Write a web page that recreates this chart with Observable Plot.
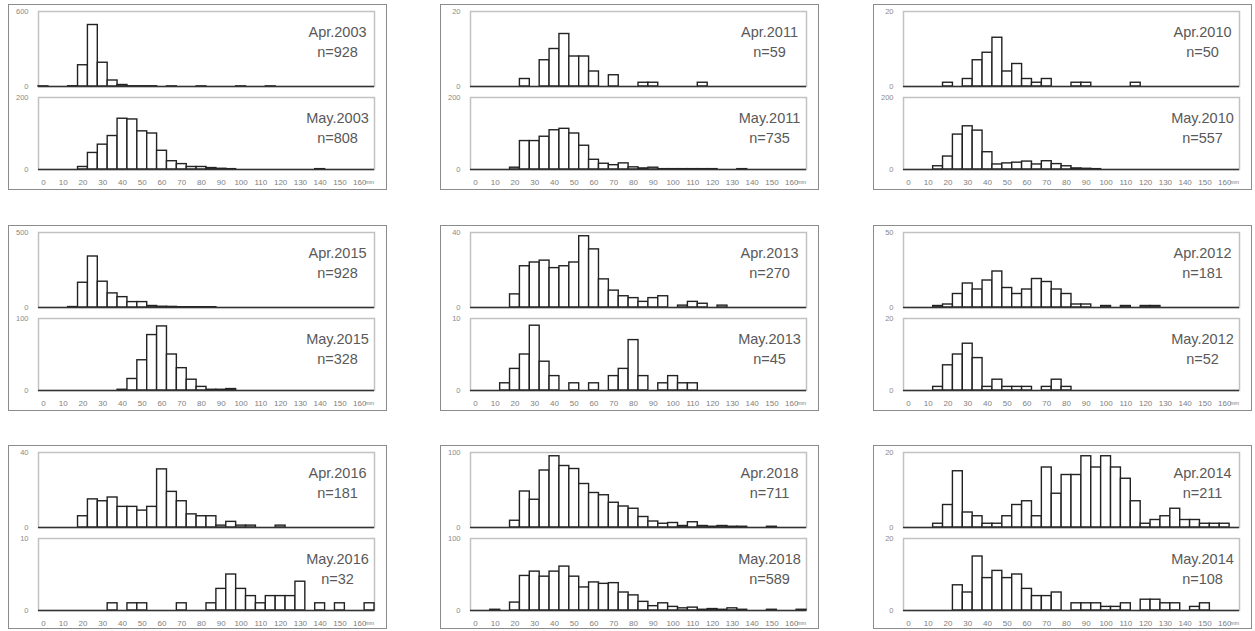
<!DOCTYPE html>
<html><head><meta charset="utf-8">
<script src="https://cdn.jsdelivr.net/npm/d3@7"></script>
<script src="https://cdn.jsdelivr.net/npm/@observablehq/plot@0.6"></script>
<style>
body{margin:0;background:#fff;}
#root{position:relative;width:1255px;height:631px;overflow:hidden;background:#fff;}
.box{position:absolute;border:1.5px solid #8c8c8c;box-sizing:border-box;}
.plot{position:absolute;}
</style></head><body><div id="root"></div>
<script>
// size classes (mm), 5 mm bins
const bins = [0,5,10,15,20,25,30,35,40,45,50,55,60,65,70,75,80,85,90,95,100,105,110,115,120,125,130,135,140,145,150,155,160,165];
const tickLabels = [0,10,20,30,40,50,60,70,80,90,100,110,120,130,140,150,160];
const unitLabel = "mm";

const apr2003 = [1,0,0,2,170,492,190,48,12,2,2,2,0,1,0,0,1,0,0,0,1,0,0,1,0,0,0,0,0,0,0,0,0,0];
const may2003 = [0,0,0,0,7,46,69,93,141,139,106,100,52,23,15,7,7,4,2,1,0,0,0,0,0,0,0,0,1,0,0,0,0,0];
const apr2011 = [0,0,0,0,0,2,0,7,10,14,8,8,4,0,3,0,0,1,1,0,0,0,0,1,0,0,0,0,0,0,0,0,0,0];
const may2011 = [0,0,0,0,5,79,79,91,109,113,100,66,27,16,12,17,6,3,5,1,1,1,1,1,1,0,0,1,0,0,0,0,0,0];
const apr2010 = [0,0,0,0,1,0,2,7,9,13,4,6,2,1,2,0,0,1,1,0,0,0,0,1,0,0,0,0,0,0,0,0,0,0];
const may2010 = [0,0,0,9,36,97,120,108,48,14,17,19,22,14,23,15,9,3,2,1,0,0,0,0,0,0,0,0,0,0,0,0,0,0];
const apr2015 = [0,0,0,3,165,340,172,94,69,36,36,10,5,4,2,2,2,2,0,0,0,0,0,0,0,0,0,0,0,0,0,0,0,0];
const may2015 = [0,0,0,0,0,0,0,0,1,16,42,77,89,50,31,15,5,1,1,2,0,0,0,0,0,0,0,0,0,0,0,0,0,0];
const apr2013 = [0,0,0,0,7,22,24,25,21,22,24,38,31,15,9,6,5,3,5,6,0,1,3,2,0,1,0,0,0,0,0,0,0,0];
const may2013 = [0,0,0,1,3,5,9,4,2,0,1,0,1,0,2,3,7,2,0,1,2,1,1,0,0,0,0,0,0,0,0,0,0,0];
const apr2012 = [0,0,0,1,2,9,16,12,18,24,13,9,12,19,17,12,9,2,2,0,1,0,1,0,1,1,0,0,0,0,0,0,0,0];
const may2012 = [0,0,0,1,7,10,13,9,1,3,1,1,1,0,1,3,1,0,0,0,0,0,0,0,0,0,0,0,0,0,0,0,0,0];
const apr2016 = [0,0,0,0,6,15,14,16,11,11,9,11,31,19,14,7,6,6,1,3,1,1,0,0,1,0,0,0,0,0,0,0,0,0];
const may2016 = [0,0,0,0,0,0,0,1,0,1,1,0,0,0,1,0,0,1,3,5,3,2,1,2,2,2,4,0,1,0,1,0,0,1];
const apr2018 = [0,0,0,0,9,48,37,76,95,82,78,58,46,43,33,28,25,14,8,5,6,2,7,2,1,2,1,1,0,0,1,0,0,0];
const may2018 = [0,0,1,0,11,48,54,47,54,61,47,32,39,37,38,25,21,12,6,10,5,3,4,1,2,1,3,1,0,0,1,0,0,1];
const apr2014 = [0,0,0,1,6,15,4,3,1,1,3,6,7,3,16,9,14,14,19,16,19,16,13,7,1,2,3,5,2,2,1,1,1,0];
const may2014 = [0,0,0,0,0,7,5,15,9,11,9,10,6,4,4,5,0,2,2,2,1,1,2,0,3,3,2,2,0,1,2,0,0,0];

// panels in reading order (row by row)
const panelSpecs = [
  [{label:"Apr.2003", n:928, max:600, counts:apr2003}, {label:"May.2003", n:808, max:200, counts:may2003}],
  [{label:"Apr.2011", n:59,  max:20,  counts:apr2011}, {label:"May.2011", n:735, max:200, counts:may2011}],
  [{label:"Apr.2010", n:50,  max:20,  counts:apr2010}, {label:"May.2010", n:557, max:200, counts:may2010}],
  [{label:"Apr.2015", n:928, max:500, counts:apr2015}, {label:"May.2015", n:328, max:100, counts:may2015}],
  [{label:"Apr.2013", n:270, max:40,  counts:apr2013}, {label:"May.2013", n:45,  max:10,  counts:may2013}],
  [{label:"Apr.2012", n:181, max:50,  counts:apr2012}, {label:"May.2012", n:52,  max:20,  counts:may2012}],
  [{label:"Apr.2016", n:181, max:40,  counts:apr2016}, {label:"May.2016", n:32,  max:10,  counts:may2016}],
  [{label:"Apr.2018", n:711, max:100, counts:apr2018}, {label:"May.2018", n:589, max:100, counts:may2018}],
  [{label:"Apr.2014", n:211, max:20,  counts:apr2014}, {label:"May.2014", n:108, max:20,  counts:may2014}]
];

const colX = [8, 440, 873];
const rowY = [4, 225, 445];
const W = 380;
const FONT = "'Liberation Sans', Arial, sans-serif";

function hist(spec, bottom) {
  const data = bins.map((b, i) => ({bin: b, count: spec.counts[i]})).filter(d => d.count > 0);
  const marks = [
    Plot.frame({stroke: "#c2c2c2", strokeWidth: 1.5}),
    Plot.barY(data, {x: "bin", y: "count", fill: "white", stroke: "#222", strokeWidth: 1.4}),
    Plot.ruleY([0], {stroke: "#333", strokeWidth: 1.7}),
    Plot.axisY([0, spec.max], {tickSize: 0, tickPadding: 10, fontSize: 7.5, color: "#8a8a8a", tickFormat: d => String(d), label: null}),
    Plot.text([spec.label + "\n" + "n=" + spec.n], {frameAnchor: "top-right", dx: -37, dy: 11, textAnchor: "middle", lineAnchor: "top", fontSize: 14.5, fill: "#595959", lineHeight: 1.4})
  ];
  if (bottom) {
    marks.push(Plot.axisX(tickLabels, {tickSize: 0, tickPadding: 10, fontSize: 8, color: "#808080", label: null}));
    marks.push(Plot.text([{bin: bins[bins.length - 1], t: unitLabel}], {x: "bin", text: "t", frameAnchor: "bottom", dy: 14, fontSize: 5.5, fill: "#808080"}));
  }
  return Plot.plot({
    width: W, height: bottom ? 100 : 86,
    marginLeft: 30, marginRight: 14, marginTop: 7, marginBottom: bottom ? 21 : 4,
    x: {type: "band", domain: bins, padding: 0, axis: bottom ? undefined : null},
    y: {domain: [0, spec.max]},
    style: {fontFamily: FONT, background: "transparent", overflow: "visible"},
    marks
  });
}

const root = document.getElementById("root");
panelSpecs.forEach((pair, k) => {
  const r = Math.floor(k / 3), c = k % 3;
  const x0 = colX[c], y0 = rowY[r];
  const box = document.createElement("div");
  box.className = "box";
  box.style.left = x0 + "px";
  box.style.top = y0 + "px";
  box.style.width = "379px";
  box.style.height = (r === 2 ? 184 : 186) + "px";
  root.appendChild(box);
  const top = hist(pair[0], false);
  top.classList.add("plot");
  top.style.left = x0 + "px";
  top.style.top = y0 + "px";
  root.appendChild(top);
  const bot = hist(pair[1], true);
  bot.classList.add("plot");
  bot.style.left = x0 + "px";
  bot.style.top = (y0 + 86) + "px";
  root.appendChild(bot);
});
</script></body></html>
